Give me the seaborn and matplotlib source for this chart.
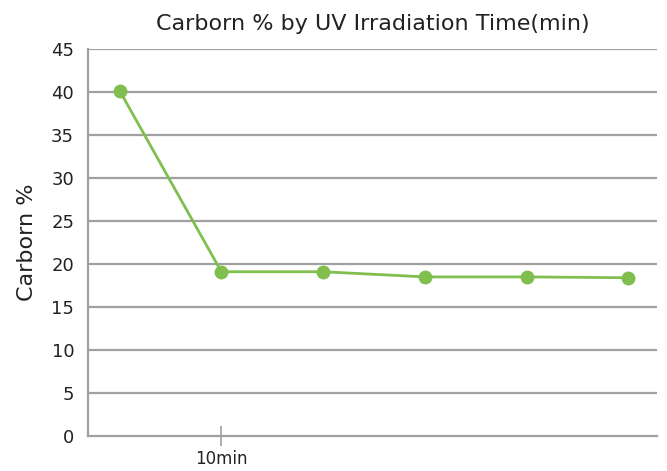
import matplotlib
matplotlib.use("Agg")
import matplotlib.pyplot as plt
import seaborn as sns
import pandas as pd

# dados
pontos = [0, 1, 2, 3, 4, 5]
carbono = [40.2, 19.1, 19.1, 18.5, 18.5, 18.4]
rotulos_x = ["10min"]
posicoes_x = [1]

df = pd.DataFrame({"ponto": pontos, "carbono": carbono})

sns.set_style("white")
plt.rcParams["font.family"] = ["DejaVu Sans"]

fig, ax = plt.subplots(figsize=(6.67, 4.71), dpi=100)
fig.subplots_adjust(left=0.132, right=0.985, top=0.895, bottom=0.075)

sns.lineplot(data=df, x="ponto", y="carbono", ax=ax, color="#80bf4e",
             linewidth=2, marker="o", markersize=10, markeredgewidth=0)

ax.set_ylim(0, 45)
ax.set_yticks(range(0, 46, 5))
ax.set_xlim(-0.31, 5.28)
ax.set_xticks(posicoes_x)
ax.set_xticklabels(rotulos_x)

for y in range(5, 46, 5):
    ax.axhline(y, color="#a0a0a0", linewidth=1.6, zorder=0)

for lado in ["top", "right"]:
    ax.spines[lado].set_visible(False)
for lado in ["left", "bottom"]:
    ax.spines[lado].set_color("#a0a0a0")
    ax.spines[lado].set_linewidth(1.6)

ax.tick_params(axis="y", length=0, labelsize=13, colors="#222222", pad=10)
ax.tick_params(axis="x", bottom=True, length=14, width=1.2, color="#a0a0a0",
               labelsize=12, labelcolor="#222222", direction="inout", pad=3)

ax.set_xlabel("")
ax.set_ylabel("Carborn %", fontsize=16, color="#222222", labelpad=10)
ax.set_title("Carborn % by UV Irradiation Time(min)", fontsize=16, color="#222222", pad=14)

plt.savefig("out.png", dpi=100)
